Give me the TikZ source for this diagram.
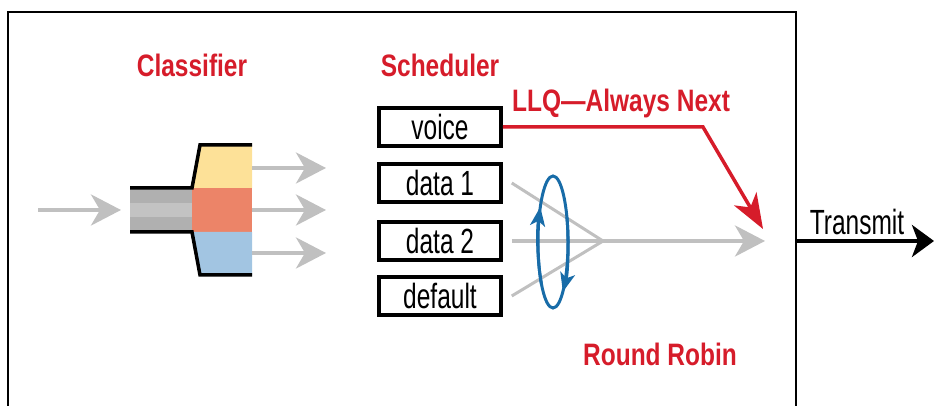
\documentclass[tikz,border=0pt]{standalone}
\usepackage{fontspec}
\setmainfont{Liberation Sans}[FakeStretch=0.79]
\newfontfamily\narrowfont{Liberation Sans}[FakeStretch=0.70]
\usetikzlibrary{arrows.meta}

\definecolor{llqred}{RGB}{214,28,42}
\definecolor{robinblue}{RGB}{24,108,168}
\definecolor{pktgray}{RGB}{192,192,192}
\definecolor{pipegray}{RGB}{176,176,176}
\definecolor{qyellow}{RGB}{253,225,152}
\definecolor{qorange}{RGB}{236,132,104}
\definecolor{qblue}{RGB}{162,197,226}

\begin{document}
\begin{tikzpicture}[x=1pt,y=1pt,
  title/.style={text=llqred,font=\fontsize{31}{34}\selectfont\bfseries},
  queue/.style={draw,line width=3.5pt,minimum width=122pt,minimum height=38pt,inner sep=0pt,
    font=\narrowfont\fontsize{35}{36}\selectfont},
  flow/.style={pktgray,line width=4pt,-{Stealth[length=30pt,width=31pt,inset=9pt]}},
  fan/.style={pktgray,line width=3pt},
  llq/.style={llqred,line width=3.5pt,-{Stealth[length=35pt,width=26pt,inset=10pt]}},
  robin/.style={robinblue,line width=3pt},
  spintip/.style={robin,-{Stealth[length=19pt,width=15pt,inset=5pt]}},
  edge/.style={line width=3.5pt}]
  \useasboundingbox (0,0) rectangle (934,406);
  \draw[line width=2.5pt] (8,0) -- (8,394) -- (796,394) -- (796,0);

  \node[title,anchor=base] (cls) at (192,329) {Classifier};
  \node[title,anchor=base] (sch) at (440,329) {Scheduler};
  \node[title,anchor=base west,inner sep=0pt] (llq) at (512,294) {LLQ\textemdash Always Next};
  \node[title,anchor=base] (rr) at (660,40) {Round Robin};

  \node[queue] (voice) at (440,279) {voice};
  \node[queue] (data1) at (440,223) {data 1};
  \node[queue] (data2) at (440,165) {data 2};
  \node[queue] (default) at (440,110) {default};

  \coordinate (in) at (38,196);
  \coordinate (pipe) at (121,196);
  \coordinate (port1) at (252,238);
  \coordinate (port2) at (252,196);
  \coordinate (port3) at (252,153);
  \coordinate (q1) at (326,238);
  \coordinate (q2) at (326,196);
  \coordinate (q3) at (326,153);
  \coordinate (merge) at (603,165);
  \coordinate (sched) at (765,165);
  \coordinate (bend) at (703,279);
  \coordinate (llqtip) at (763,177);
  \coordinate (spin) at (553,164);
  \coordinate (link) at (796,165);
  \coordinate (wire) at (934,165);

  \fill[pipegray] (130,174) rectangle (192,218);
  \fill[white,opacity=.25] (130,189) rectangle (192,203);
  \fill[qyellow] (192,218) -- (200,261) -- (252,261) -- (252,218) -- cycle;
  \fill[qorange] (192,174) rectangle (252,218);
  \fill[qblue] (192,174) -- (200,131) -- (252,131) -- (252,174) -- cycle;
  \draw[edge] (130,218) -- (192,218) -- (200,261) -- (252,261);
  \draw[edge] (130,174) -- (192,174) -- (200,131) -- (252,131);

  \draw[flow] (in) -- (pipe);
  \draw[flow] (port1) -- (q1);
  \draw[flow] (port2) -- (q2);
  \draw[flow] (port3) -- (q3);

  \draw[fan] ([xshift=9pt]data1.east) -- (merge);
  \draw[fan] ([xshift=9pt]default.east) -- (merge);
  \draw[flow] ([xshift=9pt]data2.east) -- (sched);

  \draw[robin] (spin) ellipse [x radius=15, y radius=66];
  \draw[spintip] (spin) ++(220:15 and 66)
    arc[start angle=220, end angle=148, x radius=15, y radius=66];
  \draw[spintip] (spin) ++(22:15 and 66)
    arc[start angle=22, end angle=-49, x radius=15, y radius=66];

  \draw[llq] (voice.east) -- (bend) -- (llqtip);

  \draw[line width=4pt,-{Stealth[length=22pt,width=32pt,inset=6pt]}] (link) -- (wire);
  \node[anchor=base,font=\narrowfont\fontsize{35}{36}\selectfont] (tx) at (857,171) {Transmit};
\end{tikzpicture}
\end{document}
